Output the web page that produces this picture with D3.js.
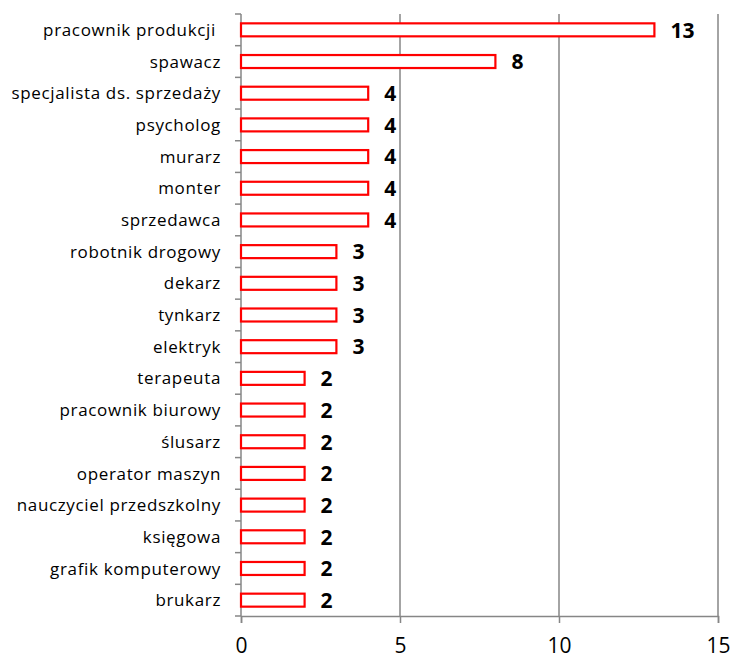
<!DOCTYPE html>
<html><head><meta charset="utf-8">
<script src="https://cdn.jsdelivr.net/npm/d3@7"></script>
<style>body{margin:0;background:#fff}svg{display:block}</style>
</head><body>
<svg id="c" width="734" height="661"></svg>
<script>
const categories = ["pracownik produkcji ","spawacz","specjalista ds. sprzedaży","psycholog","murarz","monter","sprzedawca","robotnik drogowy","dekarz","tynkarz","elektryk","terapeuta","pracownik biurowy","ślusarz","operator maszyn","nauczyciel przedszkolny","księgowa","grafik komputerowy","brukarz"];
const values = [13,8,4,4,4,4,4,3,3,3,3,2,2,2,2,2,2,2,2];
const xTicks = [0,5,10,15];

const svg = d3.select("#c");
const L = 241, R = 718, T = 14, B = 616;
const x = d3.scaleLinear().domain([0,15]).range([L,R]);
const y = d3.scaleBand().domain(categories).range([T,B]).paddingInner(0.59).paddingOuter(0.295);
const font = "'Open Sans', sans-serif";
const grey = "#868686";

// gridlines
svg.append("g").selectAll("line").data(xTicks.filter(d=>d>0)).join("line")
  .attr("x1",d=>x(d)).attr("x2",d=>x(d)).attr("y1",T).attr("y2",B)
  .attr("stroke",grey).attr("stroke-width",1.5);

// x axis
const xa = svg.append("g").attr("transform",`translate(0,${B})`)
  .call(d3.axisBottom(x).tickValues(xTicks).tickSize(7).tickPadding(15));
xa.select(".domain").attr("stroke",grey).attr("stroke-width",1.5);
xa.selectAll(".tick line").attr("stroke",grey).attr("stroke-width",1.5);
xa.selectAll("text").attr("font-family",font).attr("font-size",21).attr("fill","#000");

// y axis line + ticks at band boundaries
svg.append("line").attr("x1",L).attr("x2",L).attr("y1",T).attr("y2",B).attr("stroke",grey).attr("stroke-width",1.5);
const step = (B-T)/categories.length;
svg.append("g").selectAll("line").data(d3.range(categories.length+1)).join("line")
  .attr("x1",L-6).attr("x2",L).attr("y1",i=>T+i*step).attr("y2",i=>T+i*step)
  .attr("stroke",grey).attr("stroke-width",1.5);

// category labels
svg.append("g").selectAll("text").data(categories).join("text")
  .attr("x",L-20).attr("y",d=>y(d)+y.bandwidth()/2).attr("dy","0.36em")
  .attr("text-anchor","end").attr("font-family",font).attr("font-size",17)
  .attr("letter-spacing","0.65px").attr("fill","#000")
  .style("white-space","pre").text(d=>d);

// bars
svg.append("g").selectAll("rect").data(values).join("rect")
  .attr("x",x(0)).attr("y",(d,i)=>y(categories[i]))
  .attr("width",d=>x(d)-x(0)).attr("height",y.bandwidth())
  .attr("fill","#fff").attr("stroke","#ff0000").attr("stroke-width",2.2);

// value labels
svg.append("g").selectAll("text").data(values).join("text")
  .attr("x",d=>x(d)+16).attr("y",(d,i)=>y(categories[i])+y.bandwidth()/2).attr("dy","0.37em")
  .attr("font-family",font).attr("font-size",21).attr("font-weight","bold").attr("fill","#000")
  .text(d=>d);
</script>
</body></html>
